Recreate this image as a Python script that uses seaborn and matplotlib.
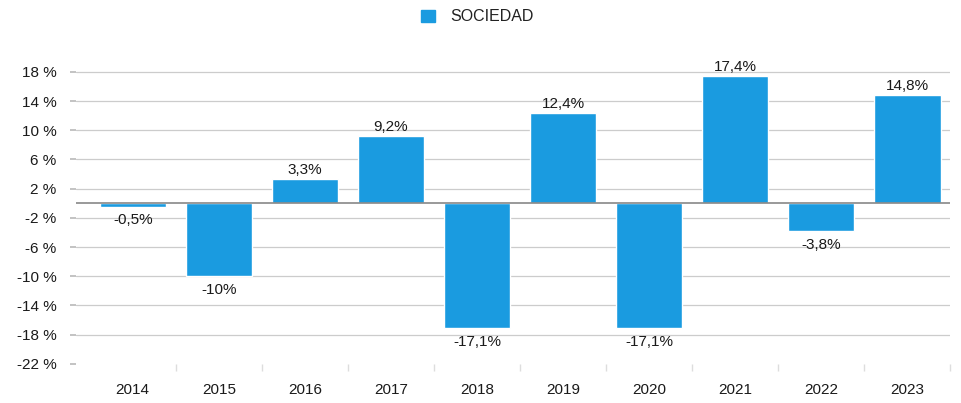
import pandas as pd
import numpy as np
import matplotlib
matplotlib.use("Agg")
import matplotlib.pyplot as plt
import seaborn as sns

# data
years = ["2014", "2015", "2016", "2017", "2018", "2019", "2020", "2021", "2022", "2023"]
values = [-0.5, -10, 3.3, 9.2, -17.1, 12.4, -17.1, 17.4, -3.8, 14.8]
labels = ["-0,5%", "-10%", "3,3%", "9,2%", "-17,1%", "12,4%", "-17,1%", "17,4%", "-3,8%", "14,8%"]
y_ticks = [18, 14, 10, 6, 2, -2, -6, -10, -14, -18, -22]
series_name = "SOCIEDAD"

df = pd.DataFrame({"year": years, "value": values})

sns.set_theme(style="white")
plt.rcParams["font.family"] = ["Liberation Sans", "DejaVu Sans"]

BLUE = "#1a9be0"

fig = plt.figure(figsize=(9.61, 4.03), dpi=100)
ax = fig.add_axes([0.079, 0.097, 0.91, 0.761])

sns.barplot(data=df, x="year", y="value", color=BLUE, width=0.77,
            saturation=1, ax=ax, zorder=3)

ax.set_ylim(-22, 20)
ax.set_xlim(-0.66, 9.47)
ax.set_yticks(y_ticks)
ax.set_yticklabels([f"{t} %" for t in y_ticks], fontsize=11, color="#1a1a1a")
for t in y_ticks:
    if t != -22:
        ax.axhline(t, color="#cccccc", lw=0.9, zorder=1)
ax.axhline(0, color="#888888", lw=1.2, zorder=4)

ax.tick_params(axis="y", length=4, color="#bbbbbb", pad=10, left=True)
ax.tick_params(axis="x", length=0, pad=14, labelsize=11, labelcolor="#1a1a1a")
ax.set_xticks(np.arange(len(years)) + 0.5, minor=True)
ax.tick_params(axis="x", which="minor", length=5, color="#dddddd", bottom=True)
ax.set_xlabel("")
ax.set_ylabel("")
for s in ax.spines.values():
    s.set_visible(False)

# value labels
for i, (v, lab) in enumerate(zip(values, labels)):
    if v >= 0:
        ax.text(i, v + 0.3, lab, ha="center", va="bottom", fontsize=11, color="#1a1a1a", zorder=5)
    else:
        ax.text(i, v - 0.9, lab, ha="center", va="top", fontsize=11, color="#1a1a1a", zorder=5)

handle = plt.Rectangle((0, 0), 1, 1, color=BLUE)
fig.legend([handle], [series_name], loc="center", bbox_to_anchor=(0.497, 0.958),
           frameon=False, fontsize=11.5, handlelength=0.85, handleheight=0.85,
           handletextpad=1.0, labelcolor="#222222")

fig.savefig("out.png", dpi=100)
